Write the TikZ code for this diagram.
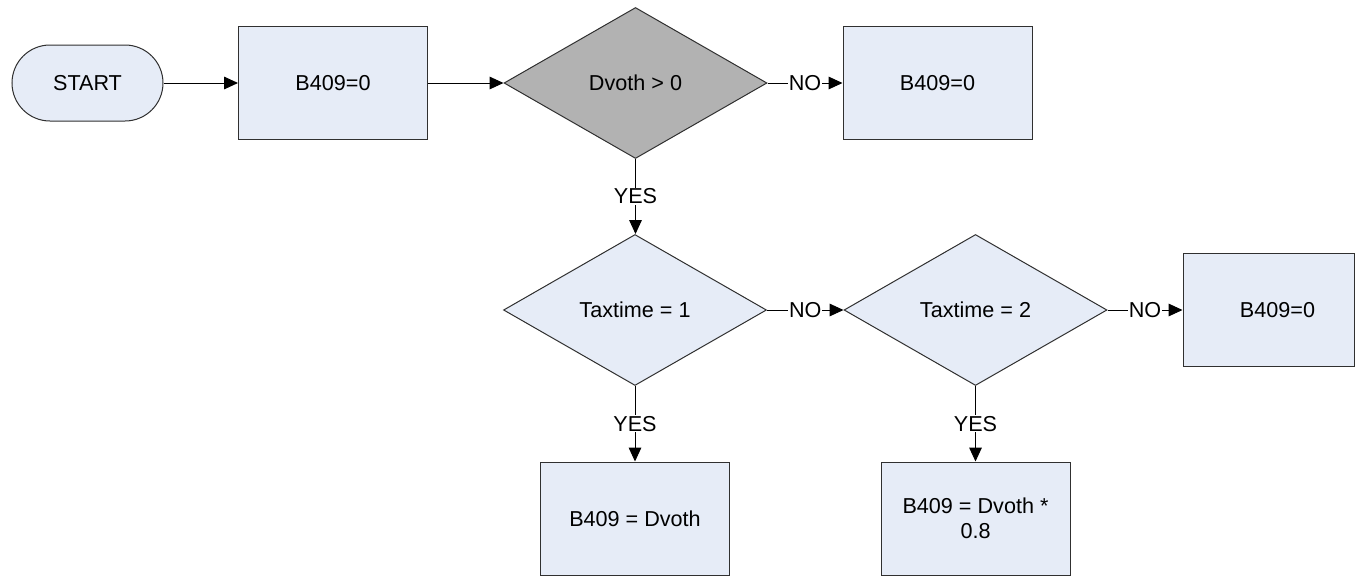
\documentclass[tikz,border=0pt]{standalone}
\usepackage{fontspec}
\setmainfont{Liberation Sans}
\usetikzlibrary{shapes.geometric,arrows.meta}
\definecolor{boxblue}{HTML}{E6ECF7}
\definecolor{decgray}{HTML}{B2B2B2}
\definecolor{edgec}{HTML}{303030}
\begin{document}
\begin{tikzpicture}[x=0.75pt,y=-0.75pt,
  every node/.style={font=\fontsize{16.2}{18.5}\selectfont},
  boxnode/.style={draw=edgec, fill=boxblue, line width=0.75pt, minimum width=141.75pt, minimum height=84.75pt, inner sep=0pt, align=center},
  startnode/.style={draw=edgec, fill=boxblue, line width=0.75pt, rectangle, rounded corners=28.5pt, minimum width=113.25pt, minimum height=57pt, inner sep=0pt},
  decnode/.style={draw=edgec, fill=boxblue, line width=0.75pt, diamond, aspect=1.74, minimum width=197.25pt, minimum height=113.25pt, inner sep=0pt},
  arr/.style={draw=black, line width=0.75pt, -{Triangle[length=10.5pt,width=9.5pt]}},
  lbl/.style={midway, fill=white, inner sep=0.6pt}
]
\path[use as bounding box] (0,0) rectangle (1355,575);

\node[startnode] (start) at (87.5,83) {START};
\node[boxnode] (b1) at (333,83) {B409=0};
\node[decnode, fill=decgray] (d1) at (635.5,83) {Dvoth > 0};
\node[boxnode] (b2) at (937.5,83) {B409=0};
\node[decnode] (d2) at (635,310) {Taxtime = 1};
\node[decnode] (d3) at (975.5,310) {Taxtime = 2};
\node[boxnode, minimum width=128.25pt] (b3) at (1268.5,310) {\hspace*{13.5pt}B409=0};
\node[boxnode] (b4) at (635,518.5) {B409 = Dvoth};
\node[boxnode] (b5) at (975.5,518.5) {B409 = Dvoth *\\0.8};

\draw[arr] (start.east) -- (b1.west);
\draw[arr] (b1.east) -- (d1.west);
\draw[arr] (d1.east) -- node[lbl]{NO} (b2.west);
\draw[arr] (d1.south) -- node[lbl]{YES} (d1.south |- d2.north);
\draw[arr] (d2.east) -- node[lbl]{NO} (d3.west);
\draw[arr] (d3.east) -- node[lbl]{NO} (b3.west);
\draw[arr] (d2.south) -- node[lbl]{YES} (b4.north);
\draw[arr] (d3.south) -- node[lbl]{YES} (b5.north);
\end{tikzpicture}
\end{document}
